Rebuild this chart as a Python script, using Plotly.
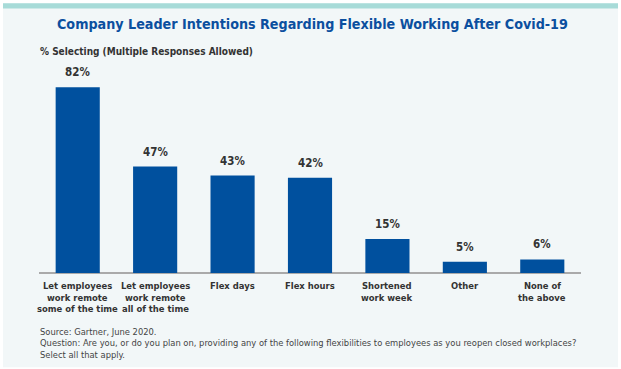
import plotly.graph_objects as go

categories = [
    "Let employees<br>work remote<br>some of the time",
    "Let employees<br>work remote<br>all of the time",
    "Flex days",
    "Flex hours",
    "Shortened<br>work week",
    "Other",
    "None of<br>the above",
]
values = [82, 47, 43, 42, 15, 5, 6]
value_labels = [f"{v}%" for v in values]

title_text = "Company Leader Intentions Regarding Flexible Working After Covid-19"
subtitle_text = "% Selecting (Multiple Responses Allowed)"
source_lines = [
    "Source: Gartner, June 2020.",
    "Question: Are you, or do you plan on, providing any of the following flexibilities to employees as you reopen closed workplaces?",
    "Select all that apply.",
]

W, H = 621, 369
ML, MR, MT, MB = 39, 40, 60, 95.5
PW, PH = W - ML - MR, H - MT - MB

def px(x):
    return (x - ML) / PW

def py(y):
    return (H - MB - y) / PH

BLUE = "#00509e"
TEXT = "#333333"
FONT = "DejaVu Sans Condensed, Liberation Sans, sans-serif"

fig = go.Figure()
fig.add_trace(go.Bar(
    x=list(range(len(categories))),
    y=values,
    marker=dict(color=BLUE, line=dict(width=0)),
    width=0.57,
    hoverinfo="skip",
))

# value labels above bars
for i, (v, t) in enumerate(zip(values, value_labels)):
    fig.add_annotation(x=i, y=v, xref="x", yref="y", text=f"<b>{t}</b>",
                       showarrow=False, yanchor="bottom", yshift=6,
                       font=dict(family=FONT, size=11.5, color=TEXT))

# category labels, line by line
line_h = 11.7
for i, c in enumerate(categories):
    for j, line in enumerate(c.split("<br>")):
        fig.add_annotation(x=i, y=0, xref="x", yref="paper", text=f"<b>{line}</b>",
                           showarrow=False, yanchor="middle",
                           yshift=-(12.3 + j * line_h),
                           font=dict(family=FONT, size=9.4, color=TEXT))

# title and subtitle
fig.add_annotation(x=px(312), y=py(24), xref="paper", yref="paper",
                   text=f"<b>{title_text}</b>", showarrow=False,
                   xanchor="center", yanchor="middle",
                   font=dict(family=FONT, size=14.2, color="#0b4f9f"))
fig.add_annotation(x=px(40), y=py(51), xref="paper", yref="paper",
                   text=f"<b>{subtitle_text}</b>", showarrow=False,
                   xanchor="left", yanchor="middle", xshift=-2,
                   font=dict(family=FONT, size=10, color=TEXT))

# source lines
for k, line in enumerate(source_lines):
    fig.add_annotation(x=px(40), y=py(331.7 + k * line_h), xref="paper", yref="paper",
                       text=line, showarrow=False, xanchor="left", yanchor="middle",
                       xshift=-2,
                       font=dict(family=FONT, size=9.3, color="#444444"))

# background panel and top band
fig.add_shape(type="rect", xref="paper", yref="paper",
              x0=px(3), x1=px(618), y0=py(368), y1=py(3),
              fillcolor="#f2f7f8", line=dict(width=0), layer="below")
fig.add_shape(type="rect", xref="paper", yref="paper",
              x0=px(3), x1=px(618), y0=py(8.3), y1=py(3),
              fillcolor="#a7dbd8", line=dict(width=0), layer="below")

fig.update_layout(
    width=W, height=H,
    margin=dict(l=ML, r=MR, t=MT, b=MB, pad=0),
    paper_bgcolor="white",
    plot_bgcolor="rgba(0,0,0,0)",
    showlegend=False,
    xaxis=dict(range=[-0.5, len(categories) - 0.5], showticklabels=False,
               showgrid=False, zeroline=False, showline=False, ticks="",
               fixedrange=True),
    yaxis=dict(range=[0, 94], showticklabels=False, showgrid=False,
               zeroline=True, zerolinecolor="#aaaaaa", zerolinewidth=2,
               showline=False, ticks="", fixedrange=True),
)

fig.write_html("out.html", config={"displayModeBar": False},
               post_script="document.body.style.margin='0';")
